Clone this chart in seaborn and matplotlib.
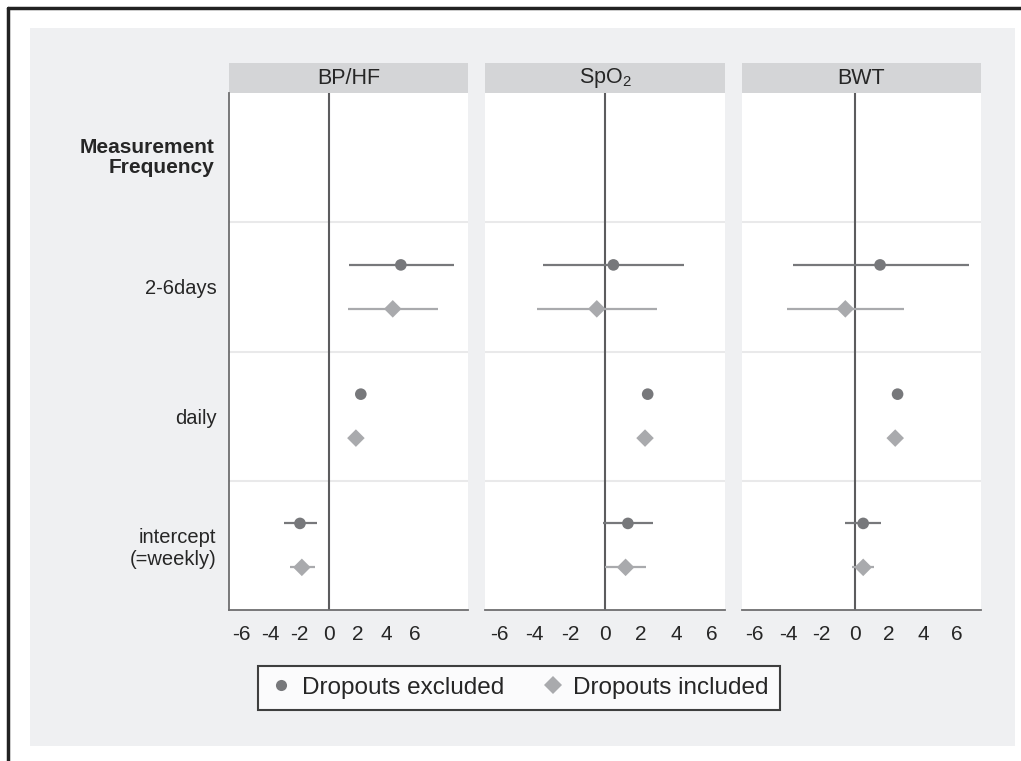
import numpy as np
import pandas as pd
import matplotlib.pyplot as plt
from matplotlib.patches import Rectangle
from matplotlib.lines import Line2D
import seaborn as sns

# panels and row labels
measures = ["BP/HF", "SpO$_\\mathregular{2}$", "BWT"]
rows = ["2-6days", "daily", "intercept\n(=weekly)"]
groups = ["Dropouts excluded", "Dropouts included"]

# estimates and CI bounds, one list per panel/group (order = rows)
bphf_excl_est = [5.0, 2.23, -1.98]
bphf_excl_lo = [1.4, 2.05, -3.09]
bphf_excl_hi = [8.66, 2.4, -0.81]
bphf_incl_est = [4.44, 1.89, -1.85]
bphf_incl_lo = [1.33, 1.75, -2.67]
bphf_incl_hi = [7.55, 2.03, -0.95]

spo2_excl_est = [0.45, 2.39, 1.27]
spo2_excl_lo = [-3.54, 2.1, -0.11]
spo2_excl_hi = [4.43, 2.65, 2.67]
spo2_incl_est = [-0.49, 2.24, 1.14]
spo2_incl_lo = [-3.85, 2.05, 0.0]
spo2_incl_hi = [2.92, 2.45, 2.3]

bwt_excl_est = [1.46, 2.5, 0.46]
bwt_excl_lo = [-3.72, 2.3, -0.62]
bwt_excl_hi = [6.71, 2.7, 1.5]
bwt_incl_est = [-0.6, 2.36, 0.46]
bwt_incl_lo = [-4.04, 2.2, -0.2]
bwt_incl_hi = [2.86, 2.5, 1.1]

xticks = [-6, -4, -2, 0, 2, 4, 6]

series = {
    measures[0]: [(bphf_excl_est, bphf_excl_lo, bphf_excl_hi), (bphf_incl_est, bphf_incl_lo, bphf_incl_hi)],
    measures[1]: [(spo2_excl_est, spo2_excl_lo, spo2_excl_hi), (spo2_incl_est, spo2_incl_lo, spo2_incl_hi)],
    measures[2]: [(bwt_excl_est, bwt_excl_lo, bwt_excl_hi), (bwt_incl_est, bwt_incl_lo, bwt_incl_hi)],
}

recs = []
for m, grp in series.items():
    for g, (est, lo, hi) in zip(groups, grp):
        for i, r in enumerate(rows):
            recs.append({"measure": m, "group": g, "row": r, "pos": i + 1,
                         "est": est[i], "lo": lo[i], "hi": hi[i]})
df = pd.DataFrame(recs)

sns.set_style("white")
plt.rcParams["font.family"] = ["Liberation Sans", "DejaVu Sans"]
plt.rcParams["mathtext.default"] = "regular"

colors = {groups[0]: "#77787b", groups[1]: "#a9aaad"}
markers = {groups[0]: "o", groups[1]: "D"}
msizes = {groups[0]: 70, groups[1]: 80}
offsets = {groups[0]: -0.17, groups[1]: 0.17}
xlims = [(-6.89, 9.68), (-6.8, 6.75), (-6.76, 7.45)]

fig, axes = plt.subplots(1, 3, figsize=(10.21, 7.61), dpi=100)
fig.subplots_adjust(left=229 / 1021, right=981 / 1021, top=1 - 93 / 761,
                    bottom=1 - 610 / 761, wspace=0.07)
fig.patch.set_facecolor("white")
# grey plot region and the cut frame lines
fig.patches.append(Rectangle((30 / 1021, 1 - 746 / 761), 985 / 1021, 718 / 761,
                             transform=fig.transFigure, facecolor="#eff0f2",
                             edgecolor="none", zorder=-10))
fig.add_artist(Line2D([8 / 1021, 1], [1 - 8 / 761, 1 - 8 / 761], color="#222222", lw=2.5))
fig.add_artist(Line2D([8 / 1021, 8 / 1021], [0, 1 - 8 / 761], color="#222222", lw=2.5))

for k, (ax, m) in enumerate(zip(axes, measures)):
    sub = df[df["measure"] == m].copy()
    sub["y"] = sub["pos"] + sub["group"].map(offsets)
    ax.set_facecolor("white")
    for yb in [0.5, 1.5, 2.5]:
        ax.axhline(yb, color="#e9e9ea", lw=1.5, zorder=0)
    ax.axvline(0, color="#5c5c5e", lw=1.5, zorder=1)
    for g in groups:
        s = sub[sub["group"] == g]
        ax.hlines(s["y"], s["lo"], s["hi"], color=colors[g], lw=1.6, zorder=2)
    sns.scatterplot(data=sub, x="est", y="y", hue="group", style="group", size="group",
                    palette=colors, markers=markers, sizes=msizes, linewidth=0,
                    legend=False, ax=ax, zorder=3)
    ax.set_xlim(*xlims[k])
    ax.set_ylim(3.5, -0.5)
    ax.set_xticks(xticks)
    ax.set_xticklabels([str(t) for t in xticks], fontsize=15)
    ax.set_xlabel("")
    ax.set_ylabel("")
    ax.tick_params(axis="x", direction="out", length=7, width=1, color="#666666", pad=4)
    for sp in ["top", "right"]:
        ax.spines[sp].set_visible(False)
    ax.spines["bottom"].set_color("#6e6e70")
    ax.spines["bottom"].set_linewidth(1.3)
    if k == 0:
        ax.spines["left"].set_color("#6e6e70")
        ax.spines["left"].set_linewidth(1.3)
        ax.set_yticks([1, 2, 3])
        ax.set_yticklabels(rows, fontsize=14.5)
        ax.tick_params(axis="y", direction="out", length=8, width=1, color="#666666", pad=1)
        ax.text(-0.06, 0, "Measurement\nFrequency", transform=ax.get_yaxis_transform(),
                ha="right", va="center", fontsize=15, fontweight="bold", linespacing=1.1)
    else:
        ax.spines["left"].set_visible(False)
        ax.set_yticks([])
    # grey header strip
    ax.add_patch(Rectangle((0, 1.0), 1, 30 / 517, transform=ax.transAxes,
                           facecolor="#d4d5d7", edgecolor="none", clip_on=False))
    ax.text(0.5, 1 + 15 / 517, m, transform=ax.transAxes, ha="center", va="center",
            fontsize=15.5)

handles = [Line2D([], [], ls="none", marker=markers[g], color=colors[g],
                  markersize=8 if g == groups[0] else 9, markeredgewidth=0) for g in groups]
leg = fig.legend(handles, groups, loc="upper left", ncol=2,
                 bbox_to_anchor=(258 / 1021, 1 - 666 / 761), fontsize=17.5,
                 frameon=True, fancybox=False, handletextpad=0.35, columnspacing=1.5,
                 handlelength=1.0, borderpad=0.45, borderaxespad=0)
leg.get_frame().set_edgecolor("#111111")
leg.get_frame().set_linewidth(1.5)
leg.get_frame().set_facecolor("white")

plt.savefig("out.png", dpi=100)
